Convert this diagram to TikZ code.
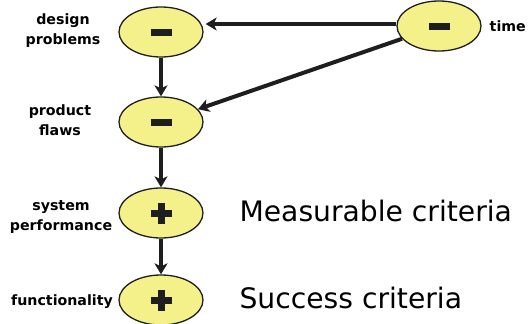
\documentclass[tikz,border=0pt]{standalone}
\usepackage{fontspec}
\setmainfont{DejaVu Sans}
\usetikzlibrary{arrows.meta,shapes.geometric}
\definecolor{bulb}{HTML}{F4F08A}
\definecolor{ink}{HTML}{1E1E1E}
\tikzset{
  factor/.style={ellipse, draw=ink, line width=1.3pt, fill=bulb,
    minimum width=84pt, minimum height=50pt, inner sep=0pt},
  link/.style={draw=ink, line width=4pt,
    -{Stealth[length=11pt,width=13pt,inset=3pt]}},
  lab/.style={font=\fontsize{14.2}{20}\selectfont\bfseries, align=center},
  big/.style={font=\fontsize{28.2}{32}\selectfont, anchor=west}
}
\newcommand{\minussign}{\tikz\fill[ink](0,0) rectangle (21pt,7pt);}
\newcommand{\plussign}{\tikz{\fill[ink](-10.5pt,-3.5pt) rectangle (10.5pt,3.5pt);
  \fill[ink](-3.5pt,-10.5pt) rectangle (3.5pt,10.5pt);}}
\begin{document}
\begin{tikzpicture}[x=1pt,y=-1pt]
\useasboundingbox (0,0) rectangle (528,324);
% the factors
\node[factor] (design) at (161,32) {\minussign};
\node[factor] (flaws) at (161,122) {\minussign};
\node[factor] (time) at (439,26) {\minussign};
\node[factor] (perf) at (161,213) {\plussign};
\node[factor] (func) at (161,300) {\plussign};
% their names
\node[lab] (designlab) at (63,31) {design\\problems};
\node[lab] (flawslab) at (60,120) {product\\flaws};
\node[lab] (perflab) at (61,217) {system\\performance};
\node[lab] (funclab) at (62,302) {functionality};
\node[lab, anchor=east, inner sep=1pt] (timelab) at (527,26) {time};
\node[big] (measurable) at (236,211) {Measurable criteria};
\node[big] (success) at (236,298) {Success criteria};
% influences
\draw[link] (design) -- (flaws);
\draw[link] (flaws) -- (perf);
\draw[link] (perf) -- (func);
\draw[link] ([yshift=2pt]time.west) -- ([yshift=8pt,xshift=2pt]design.east);
\draw[link] (time) -- (flaws);
\end{tikzpicture}
\end{document}
